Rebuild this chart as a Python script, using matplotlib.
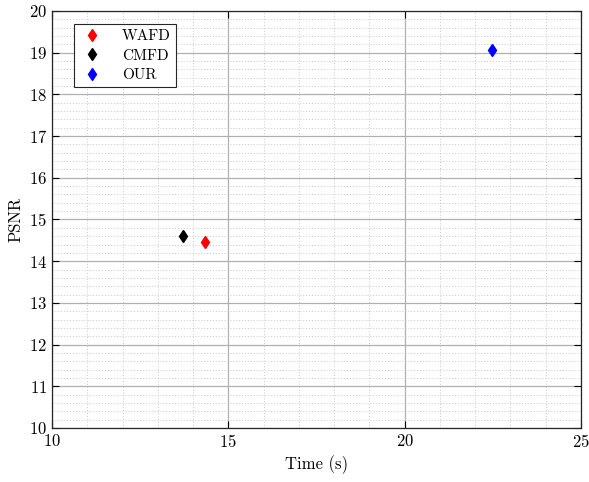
import matplotlib
matplotlib.use("Agg")
import matplotlib.pyplot as plt
from matplotlib.ticker import MultipleLocator

plt.rcParams.update({
    "font.family": "cmr10",
    "axes.formatter.use_mathtext": True,
    "font.size": 12,
})

methods = ["WAFD", "CMFD", "OUR"]
times = [14.33, 13.71, 22.47]
psnr = [14.46, 14.60, 19.06]
colors = ["red", "black", "blue"]

fig = plt.figure(figsize=(5.89, 4.82), dpi=100)
ax = fig.add_axes([52 / 589, 1 - 428 / 482, 529 / 589, 417 / 482])

for name, t, p, c in zip(methods, times, psnr, colors):
    ax.plot(t, p, "d", color=c, markersize=6, label=name)

ax.set_xlim(10, 25)
ax.set_ylim(10, 20)
ax.xaxis.set_major_locator(MultipleLocator(5))
ax.xaxis.set_minor_locator(MultipleLocator(1))
ax.yaxis.set_major_locator(MultipleLocator(1))
ax.yaxis.set_minor_locator(MultipleLocator(0.2))
ax.grid(which="major", color="#b0b0b0", lw=0.9, ls="-")
ax.grid(which="minor", color="#c8c8c8", lw=0.7, ls=(0, (1, 2)))
ax.set_axisbelow(True)
ax.tick_params(which="both", direction="in", top=True, right=True, labelsize=12)
ax.tick_params(which="minor", length=0)
ax.tick_params(which="major", length=5, width=0.8)
for s in ax.spines.values():
    s.set_color("#262626")
    s.set_linewidth(0.9)

ax.set_xlabel("Time (s)", fontsize=12)
ax.set_ylabel("PSNR", fontsize=12)

leg = ax.legend(loc="upper left", bbox_to_anchor=(0.0416, 0.969), borderaxespad=0,
                fancybox=False, edgecolor="#262626", framealpha=1, fontsize=11,
                handlelength=1.6, handletextpad=1.2, borderpad=0.35, labelspacing=0.38)
leg.get_frame().set_linewidth(0.8)

fig.savefig("out.png", dpi=100)
